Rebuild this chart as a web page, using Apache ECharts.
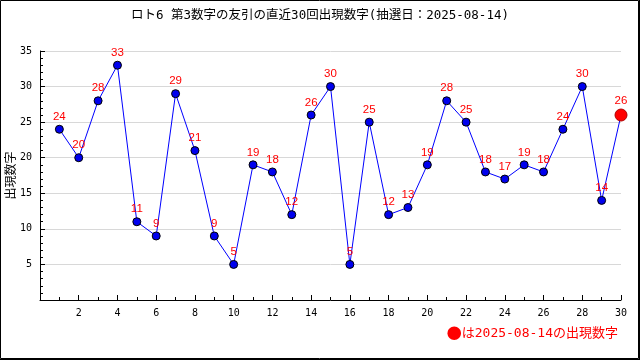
<!DOCTYPE html>
<html><head><meta charset="utf-8">
<script src="https://cdn.jsdelivr.net/npm/echarts@6/dist/echarts.min.js"></script>
<style>html,body{margin:0;padding:0;background:#fff}#c{width:640px;height:360px}</style>
</head><body><div id="c"></div>
<script>
const titleText = 'ロト6 第3数字の友引の直近30回出現数字(抽選日：2025-08-14)';
const yName = '出現数字';
const noteMark = '●';
const noteText = 'は2025-08-14の出現数字';
const draws = [1,2,3,4,5,6,7,8,9,10,11,12,13,14,15,16,17,18,19,20,21,22,23,24,25,26,27,28,29,30];
const values = [24,20,28,33,11,9,29,21,9,5,19,18,12,26,30,5,25,12,13,19,28,25,18,17,19,18,24,30,14,26];

const data = draws.map((d, i) => {
  const last = i === draws.length - 1;
  return last ? {value: [d, values[i]], symbolSize: 12, itemStyle: {color: '#ff0000', borderColor: '#b00000', borderWidth: 1}}
              : {value: [d, values[i]]};
});

const chart = echarts.init(document.getElementById('c'), null, {renderer: 'canvas'});
chart.setOption({
  animation: false,
  backgroundColor: '#fff',
  title: {text: titleText, left: 'center', top: 4,
    textStyle: {fontFamily: '"DejaVu Sans Mono", "Noto Sans CJK JP"', fontSize: 12.5, fontWeight: 'normal', color: '#000'}},
  grid: {left: 40, right: 19, top: 51, bottom: 60, containLabel: false, outerBoundsMode: 'none'},
  xAxis: {type: 'value', min: 0, max: 30, interval: 2,
    axisLine: {onZero: false, lineStyle: {color: '#000', width: 1}},
    axisTick: {inside: true, length: 5, lineStyle: {color: '#000'}},
    minorTick: {show: true, splitNumber: 2, length: 3, lineStyle: {color: '#000'}},
    splitLine: {show: false},
    axisLabel: {color: '#000', fontFamily: 'DejaVu Sans Mono', fontSize: 10, margin: 8,
      formatter: v => v === 0 ? '' : String(v)}},
  yAxis: {type: 'value', min: 0, max: 35, interval: 5,
    name: yName, nameLocation: 'middle', nameGap: 24, nameRotate: 90, nameMoveOverlap: false,
    nameTextStyle: {fontFamily: 'Noto Sans CJK JP', fontSize: 12, color: '#000'},
    axisLine: {show: true, lineStyle: {color: '#000', width: 1}},
    axisTick: {show: true, inside: true, length: 5, lineStyle: {color: '#000'}},
    minorTick: {show: true, splitNumber: 5, length: 3, lineStyle: {color: '#000'}},
    splitLine: {show: true, lineStyle: {color: '#d8d8d8', width: 1}},
    axisLabel: {color: '#000', fontFamily: 'DejaVu Sans Mono', fontSize: 10, margin: 8,
      formatter: v => v === 0 ? '' : String(v)}},
  series: [{
    type: 'line', data: data, symbol: 'circle', symbolSize: 8,
    lineStyle: {color: '#0000ff', width: 1},
    itemStyle: {color: '#0000ee', borderColor: '#000', borderWidth: 1},
    label: {show: true, position: 'top', distance: 2, color: '#ff0000',
      fontFamily: 'Liberation Sans', fontSize: 11.5,
      formatter: p => String(p.value[1])},
    z: 3
  }],
  graphic: [
    {type: 'text', right: 22, top: 326, style: {
      text: '{m|' + noteMark + '}{t|' + noteText + '}',
      rich: {
        m: {fill: '#ff0000', fontFamily: 'Noto Sans CJK JP', fontSize: 15, verticalAlign: 'middle'},
        t: {fill: '#ff0000', fontFamily: '"DejaVu Sans Mono", "Noto Sans CJK JP"', fontSize: 13, verticalAlign: 'middle'}
      }}},
    {type: 'rect', shape: {x: 0.5, y: 0.5, width: 638, height: 358}, style: {fill: 'none', stroke: '#000', lineWidth: 1}},
    {type: 'line', shape: {x1: 639.5, y1: 0, x2: 639.5, y2: 360}, style: {stroke: '#000', lineWidth: 1}},
    {type: 'line', shape: {x1: 0, y1: 359.5, x2: 640, y2: 359.5}, style: {stroke: '#000', lineWidth: 1}}
  ]
});
</script></body></html>
